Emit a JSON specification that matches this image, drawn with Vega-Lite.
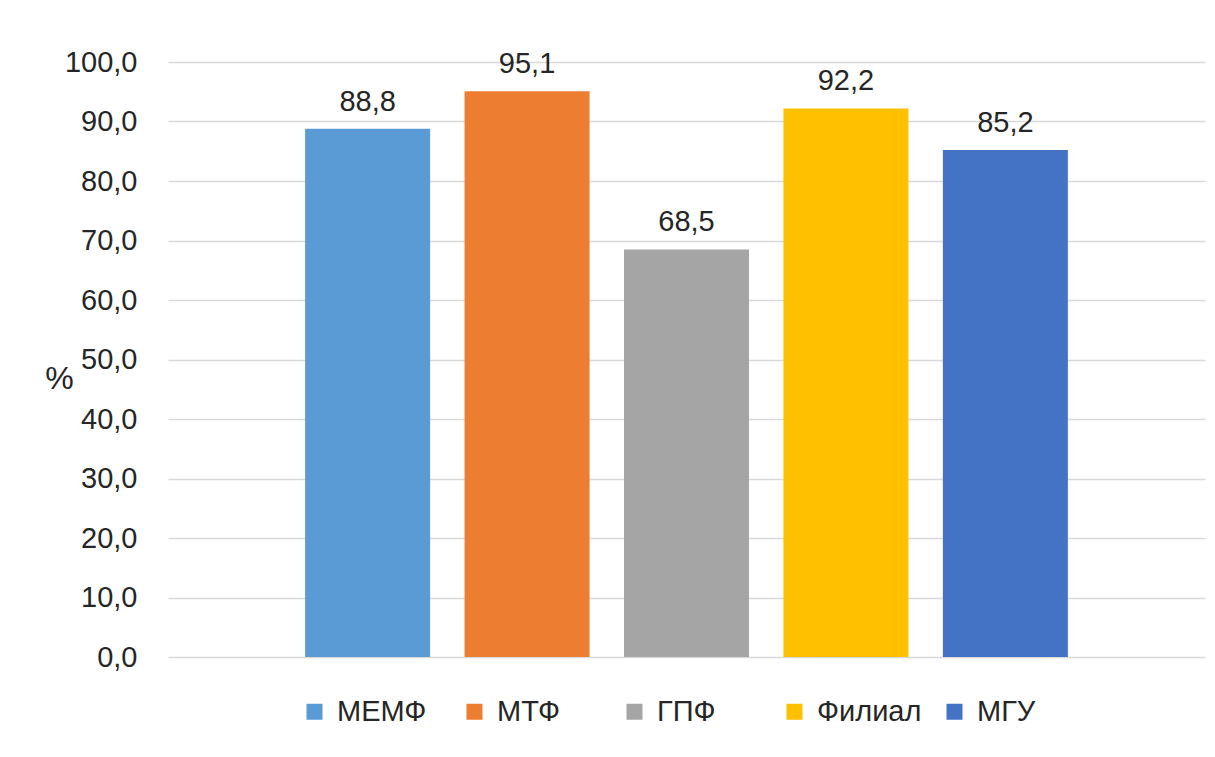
{
  "$schema": "https://vega.github.io/schema/vega-lite/v6.json",
  "width": 1037,
  "height": 595,
  "autosize": {"type": "none"},
  "padding": {"left": 168, "top": 62, "right": 10, "bottom": 100},
  "background": "white",
  "data": {
    "values": [
      {"cat": "МЕМФ", "value": 88.8},
      {"cat": "МТФ", "value": 95.1},
      {"cat": "ГПФ", "value": 68.5},
      {"cat": "Филиал", "value": 92.2},
      {"cat": "МГУ", "value": 85.2}
    ]
  },
  "encoding": {
    "x": {
      "field": "cat",
      "type": "nominal",
      "sort": ["МЕМФ", "МТФ", "ГПФ", "Филиал", "МГУ"],
      "scale": {"paddingInner": 0.216, "paddingOuter": 0.86},
      "axis": null
    },
    "y": {
      "field": "value",
      "type": "quantitative",
      "scale": {"domain": [0, 100], "nice": false},
      "axis": {
        "values": [0, 10, 20, 30, 40, 50, 60, 70, 80, 90, 100],
        "format": ".1f",
        "labelExpr": "replace(format(datum.value, '.1f'), '.', ',')",
        "title": "%",
        "titleAngle": 0,
        "titleX": -109,
        "titleY": 316,
        "titleAlign": "center",
        "titleBaseline": "middle",
        "titleFontSize": 32,
        "titleFontWeight": "normal",
        "titleColor": "#262626",
        "labelFontSize": 29,
        "labelColor": "#262626",
        "labelPadding": 31,
        "ticks": false,
        "domain": false,
        "grid": true,
        "gridColor": "#D9D9D9",
        "gridWidth": 1.5
      }
    }
  },
  "layer": [
    {
      "mark": {"type": "bar"},
      "encoding": {
        "color": {
          "field": "cat",
          "type": "nominal",
          "sort": ["МЕМФ", "МТФ", "ГПФ", "Филиал", "МГУ"],
          "scale": {
            "domain": ["МЕМФ", "МТФ", "ГПФ", "Филиал", "МГУ"],
            "range": ["#5B9BD5", "#ED7D31", "#A5A5A5", "#FFC000", "#4472C4"]
          },
          "legend": {
            "title": null,
            "orient": "none",
            "legendX": 132,
            "legendY": 635,
            "direction": "horizontal",
            "columns": 5,
            "gridAlign": "all",
            "columnPadding": 18,
            "symbolType": "square",
            "symbolSize": 256,
            "symbolStrokeWidth": 0,
            "labelFontSize": 29,
            "labelColor": "#262626",
            "labelOffset": 8,
            "labelLimit": 300
          }
        }
      }
    },
    {
      "mark": {"type": "text", "baseline": "bottom", "dy": -12, "fontSize": 29, "color": "#262626"},
      "encoding": {
        "text": {"field": "value", "type": "quantitative", "format": ".1f"}
      }
    }
  ],
  "config": {
    "font": "Liberation Sans",
    "view": {"stroke": null},
    "locale": {
      "number": {"decimal": ",", "thousands": " ", "grouping": [3], "currency": ["", ""]}
    }
  }
}
